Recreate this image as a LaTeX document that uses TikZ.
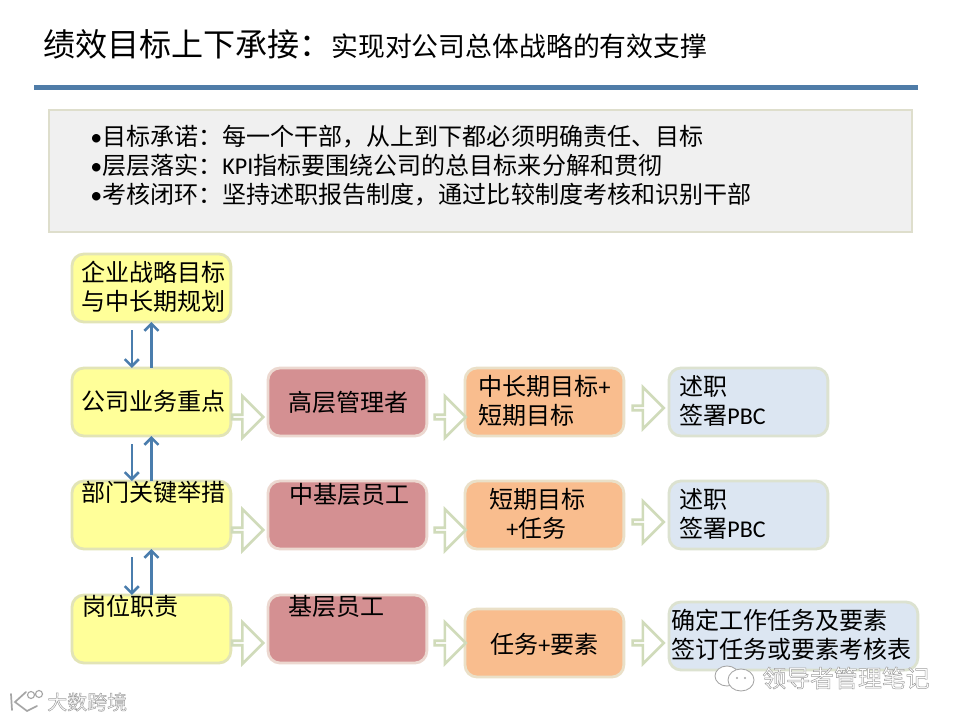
\documentclass[tikz,border=0pt]{standalone}
\usepackage{fontspec}
\usepackage{xcolor}
\setmainfont{Noto Sans CJK SC}
\newfontfamily\latinfont{Carlito}
\usetikzlibrary{arrows.meta,calc,shapes.arrows}
\definecolor{rulesteel}{RGB}{79,124,168}
\definecolor{panelgrey}{RGB}{240,240,240}
\definecolor{paneledge}{RGB}{222,222,204}
\definecolor{softyellow}{RGB}{255,255,153}
\definecolor{edgeyellow}{RGB}{226,228,182}
\definecolor{softrose}{RGB}{212,144,146}
\definecolor{edgerose}{RGB}{236,216,208}
\definecolor{softorange}{RGB}{249,189,142}
\definecolor{edgeorange}{RGB}{234,224,200}
\definecolor{softsky}{RGB}{220,230,242}
\definecolor{edgesky}{RGB}{220,226,208}
\definecolor{arrowgreen}{RGB}{208,219,186}
\definecolor{flowblue}{RGB}{74,125,173}
\definecolor{markgrey}{RGB}{165,165,165}
\newcommand{\outlined}[1]{\special{pdf:code q 2 Tr 0.35 w 0.62 G 1 g}#1\special{pdf:code Q}}
\tikzset{
  boxbase/.style={rounded corners=0.3cm, line width=2pt, minimum height=1.7cm, inner sep=0pt, outer sep=0pt, anchor=north west},
  goalbox/.style={boxbase, fill=softyellow, draw=edgeyellow, minimum width=3.97cm},
  rolebox/.style={boxbase, fill=softrose, draw=edgerose, minimum width=3.97cm},
  targetbox/.style={boxbase, fill=softorange, draw=edgeorange, minimum width=3.97cm},
  reviewbox/.style={boxbase, fill=softsky, draw=edgesky, minimum width=3.97cm},
  boxtext/.style={anchor=west, inner sep=0pt, align=left, font=\fontsize{17.1}{20.6}\selectfont},
  openarrow/.style={shape=single arrow, draw=arrowgreen, fill=white, line width=1.8pt, inner sep=0pt,
    minimum height=0.78cm, minimum width=1.04cm, single arrow head extend=0.26cm, single arrow head indent=0pt},
  flowline/.style={draw=flowblue, line width=1.8pt, -{Straight Barb[length=5pt,width=10pt]}},
}
\begin{document}
\begin{tikzpicture}[x=0.025cm,y=-0.025cm]
\useasboundingbox[fill=white] (0,0) rectangle (960,720);
\node[anchor=west, inner sep=0pt, font=\fontsize{22.8}{26}\selectfont] (titleMain) at (43,44) {绩效目标上下承接：};
\node[anchor=west, inner sep=0pt, font=\fontsize{19.1}{23}\selectfont] (titleSub) at (331,46) {实现对公司总体战略的有效支撑};
\fill[rulesteel] (34,85) rectangle (918,90);

\node[draw=paneledge, fill=panelgrey, line width=1.8pt, anchor=north west, minimum width=21.57cm, minimum height=3.05cm, inner sep=0pt, outer sep=0pt] (panel) at (49,110) {};
\node[boxtext, anchor=north west] (panelText) at (90,125) {{\latinfont •}目标承诺：每一个干部，从上到下都必须明确责任、目标\\
{\latinfont •}层层落实：{\latinfont KPI}指标要围绕公司的总目标来分解和贯彻\\
{\latinfont •}考核闭环：坚持述职报告制度，通过比较制度考核和识别干部};

\node[goalbox] (strategy) at (72,254) {};
\node[goalbox] (business) at (72,368) {};
\node[goalbox] (dept) at (72,481) {};
\node[goalbox] (post) at (72,595) {};
\node[rolebox] (senior) at (268,368) {};
\node[rolebox] (middle) at (268,481) {};
\node[rolebox] (junior) at (268,595) {};
\node[targetbox] (longTerm) at (465,368) {};
\node[targetbox] (shortTerm) at (465,481) {};
\node[targetbox] (taskGoal) at (465,609) {};
\node[reviewbox] (reviewA) at (669,368) {};
\node[reviewbox] (reviewB) at (669,481) {};
\node[reviewbox, minimum width=6.22cm] (reviewC) at (669,602) {};

\node[boxtext] (strategyText) at (81,287) {企业战略目标\\与中长期规划};
\node[boxtext] (businessText) at (81,401) {公司业务重点};
\node[boxtext] (deptText) at (81,492) {部门关键举措};
\node[boxtext] (postText) at (82,606) {岗位职责};
\node[boxtext] (seniorText) at (288,402) {高层管理者};
\node[boxtext] (middleText) at (289,494) {中基层员工};
\node[boxtext] (juniorText) at (288,606) {基层员工};
\node[boxtext] (longTermText) at (478,401) {中长期目标{\latinfont +}\\短期目标};
\node[boxtext] (shortTermText) at (489,514) {短期目标\\\hspace*{0.43cm}{\latinfont +}任务};
\node[boxtext] (taskGoalText) at (490,644) {任务{\latinfont +}要素};
\node[boxtext] (reviewAText) at (679,401) {述职\\签署{\latinfont PBC}};
\node[boxtext] (reviewBText) at (679,514) {述职\\签署{\latinfont PBC}};
\node[boxtext] (reviewCText) at (671,635) {确定工作任务及要素\\签订任务或要素考核表};

\draw[flowline] ([xshift=-0.49cm,yshift=-0.2cm]strategy.south) -- ([xshift=-0.49cm]business.north);
\draw[flowline] (business.north) -- (strategy.south);
\draw[flowline] ([xshift=-0.49cm,yshift=-0.2cm]business.south) -- ([xshift=-0.49cm]dept.north);
\draw[flowline] (dept.north) -- (business.south);
\draw[flowline] ([xshift=-0.49cm,yshift=-0.2cm]dept.south) -- ([xshift=-0.49cm]post.north);
\draw[flowline] (post.north) -- (dept.south);

\node[openarrow] (stepA) at (246.5,417) {};
\node[openarrow] (stepB) at (246.5,530) {};
\node[openarrow] (stepC) at (246.5,643) {};
\node[openarrow] (stepD) at (449,417) {};
\node[openarrow] (stepE) at (449,530) {};
\node[openarrow] (stepF) at (449,643) {};
\node[openarrow] (stepG) at (647,408) {};
\node[openarrow] (stepH) at (647,522) {};
\node[openarrow] (stepI) at (647,643) {};

\draw[markgrey, fill=white, line width=0.6pt] (727,676) ellipse (12 and 10);
\draw[markgrey, fill=white, line width=0.6pt] (741,680) ellipse (13 and 11);
\fill[markgrey] (737,678) circle (1.2) (745,678) circle (1.2);
\node[anchor=west, inner sep=0pt, font=\fontsize{17}{20}\selectfont] (markRight) at (762,678) {\outlined{领导者管理笔记}};

\draw[markgrey, line width=1.2pt, line cap=round] (11,694) -- (12,710) (26,692) -- (15,702) -- (27,711) -- (37,706);
\draw[markgrey, line width=0.8pt] (31,695) circle (3.5) (39,694) circle (3.5);
\node[anchor=west, inner sep=0pt, font=\fontsize{14.2}{17}\selectfont] (markLeft) at (47,702) {\outlined{大数跨境}};
\end{tikzpicture}
\end{document}
